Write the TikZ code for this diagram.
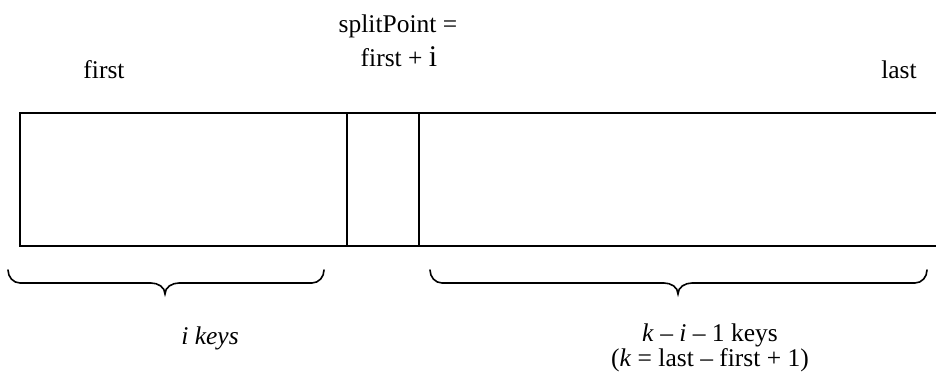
\documentclass[tikz,border=0pt]{standalone}
\usepackage{fontspec}
\setmainfont{Liberation Serif}
\begin{document}
\begin{tikzpicture}[x=1pt,y=-1pt,
  box/.style={line width=2pt},
  curly/.style={line width=1.6pt, line cap=round},
  lbl/.style={inner sep=0pt, anchor=base, font=\fontsize{25.5}{30}\selectfont}]
\useasboundingbox (0,0) rectangle (936,377);
% box
\coordinate (tl) at (20,113);
\coordinate (bl) at (20,246);
\coordinate (tr) at (940,113);
\coordinate (br) at (940,246);
\draw[box] (tr) -- (tl) -- (bl) -- (br);
\coordinate (d1t) at (347,113); \coordinate (d1b) at (347,246);
\coordinate (d2t) at (419,113); \coordinate (d2b) at (419,246);
\draw[box] (d1t) -- (d1b);
\draw[box] (d2t) -- (d2b);
% left brace
\coordinate (la) at (8,270);
\coordinate (lb) at (324,270);
\coordinate (lt) at (165,294);
\draw[curly] (la) to[out=-90,in=180] (20,283) -- (151,283) to[out=0,in=90] (lt)
  to[out=90,in=180] (179,283) -- (312,283) to[out=0,in=-90] (lb);
% right brace
\coordinate (ra) at (430,270);
\coordinate (rb) at (927,270);
\coordinate (rt) at (678,294);
\draw[curly] (ra) to[out=-90,in=180] (442,283) -- (664,283) to[out=0,in=90] (rt)
  to[out=90,in=180] (692,283) -- (915,283) to[out=0,in=-90] (rb);
% labels
\node[lbl] (first) at (104,79) {first};
\node[lbl] (last) at (899,79) {last};
\node[lbl] (sp1) at (398,33) {splitPoint =};
\node[lbl] (sp2) at (399,67) {first + {\fontsize{30}{30}\selectfont i}};
\node[lbl] (ik) at (210,344) {\itshape i keys};
\node[lbl, align=center, font=\fontsize{25.5}{22}\selectfont] (kk) at (710,366)
  {\textit{k} – \textit{i} – 1 keys\\(\textit{k} = last – first + 1)};
\end{tikzpicture}
\end{document}
